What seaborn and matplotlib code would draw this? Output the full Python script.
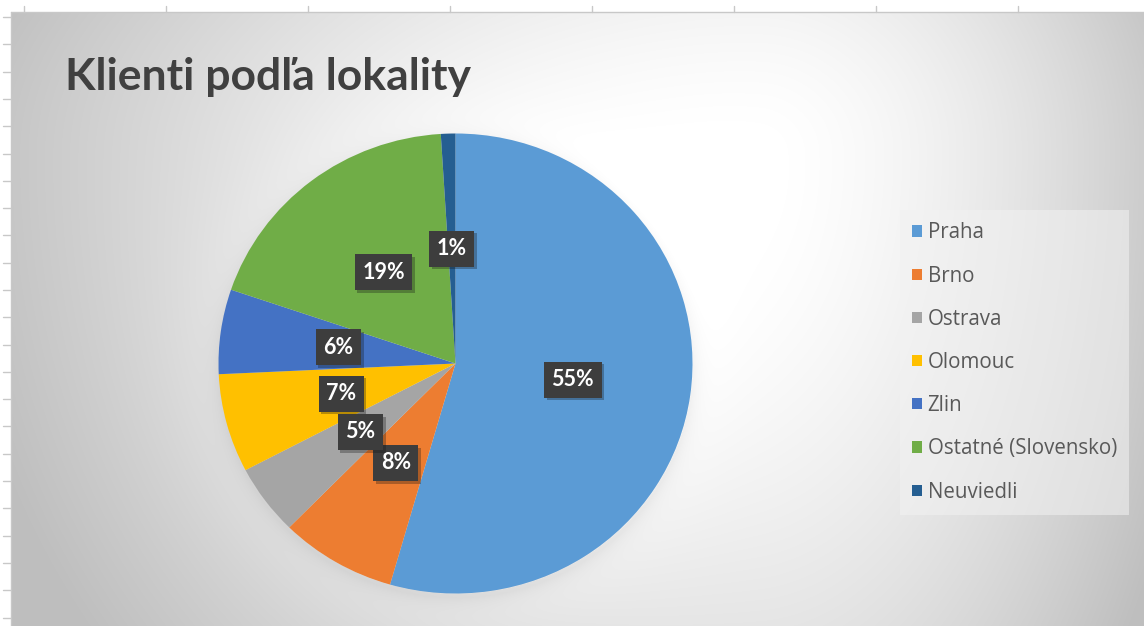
import numpy as np
import matplotlib
matplotlib.use("Agg")
import matplotlib.pyplot as plt
import matplotlib.patheffects as pe
from matplotlib.patches import Patch
import seaborn as sns

# data
lokality = ["Praha", "Brno", "Ostrava", "Olomouc", "Zlin", "Ostatné (Slovensko)", "Neuviedli"]
podiel = [55, 8, 5, 7, 6, 19, 1]
popisky = [f"{p}%" for p in podiel]
farby = ["#5B9BD5", "#ED7D31", "#A5A5A5", "#FFC000", "#4472C4", "#70AD47", "#255E91"]
nadpis = "Klienti podľa lokality"

sns.set_theme(style="white")
plt.rcParams['font.family'] = ['Lato', 'DejaVu Sans']

W, H = 1144, 626
fig = plt.figure(figsize=(W / 100, H / 100), dpi=100)

# pie placement (the screenshot is slightly stretched horizontally)
cx, cy, RX, RY = 455.5, 363.5, 237, 230

# background: excel-like radial gradient, light halo and soft shadow round the pie
bg = fig.add_axes([0, 0, 1, 1])
yy, xx = np.mgrid[0:H, 0:W]
dx = xx - 760.0
dy = yy - 150.0
sx = np.where(dx < 0, 780.0, 430.0)
sy = np.where(dy < 0, 400.0, 800.0)
d = np.sqrt((dx / sx) ** 2 + (dy / sy) ** 2)
v = 255 - 60 * np.minimum(d, 1.05) ** 1.6
rr = np.hypot((xx - cx) / RX, (yy - cy) / RY) * RY
out = np.clip(rr - RY, 0, None)
v = v + 10 * np.exp(-out / 60) * (rr > RY)
rs = np.hypot((xx - cx) / RX, (yy - cy - 4) / RY) * RY
v = v - 14 * np.exp(-np.clip(rs - RY, 0, None) / 9) * (rr > RY)
v = np.clip(v, 0, 255) / 255
img = np.dstack([v, v, v])
img[:12, :, :] = 1
img[:, :11, :] = 1
bg.imshow(img, extent=[0, W, H, 0], aspect='auto', interpolation='bilinear')
bg.plot([11, W], [12, 12], color="#c8c8c8", lw=1)
bg.plot([11, 11], [12, H], color="#c8c8c8", lw=1)
for x in np.arange(24, W, 142):
    bg.plot([x, x], [6, 12], color="#c8c8c8", lw=1)
for y in np.arange(17, H, 27.3):
    bg.plot([3, 11], [y, y], color="#c8c8c8", lw=1)
bg.set_xlim(0, W)
bg.set_ylim(H, 0)
bg.axis('off')

# pie
ax = fig.add_axes([(cx - RX) / W, (H - cy - RY) / H, 2 * RX / W, 2 * RY / H])
wedges, _ = ax.pie(podiel, colors=farby, startangle=90, counterclock=False,
                   wedgeprops=dict(linewidth=0))
ax.set_xlim(-1, 1)
ax.set_ylim(-1, 1)
ax.set_aspect('auto')

for w, txt in zip(wedges, popisky):
    ang = np.deg2rad((w.theta1 + w.theta2) / 2)
    t = ax.text(0.5 * np.cos(ang), 0.5 * np.sin(ang), txt, ha='center', va='center',
                color='white', fontsize=15.5, fontweight='bold',
                bbox=dict(boxstyle='square,pad=0.35', fc='#3d3d3d', ec='none'))
    t.get_bbox_patch().set_path_effects([pe.SimplePatchShadow(offset=(2, -2), alpha=0.3), pe.Normal()])

# legend
handles = [Patch(facecolor=c, edgecolor='none') for c in farby]
leg = fig.legend(handles, lokality, loc='upper left', bbox_to_anchor=(900 / W, 1 - 210 / H),
                 frameon=True, fancybox=False, labelspacing=1.08,
                 prop={'family': ['Open Sans', 'DejaVu Sans'], 'size': 14.8},
                 handlelength=0.45, handleheight=0.45, handletextpad=0.3,
                 borderpad=0.6, borderaxespad=0, labelcolor='#595959')
leg.get_frame().set(facecolor='#f2f2f2', alpha=0.55, edgecolor='none')

fig.text(65 / W, 1 - 77 / H, nadpis, fontsize=32, fontweight='bold', color='#404040',
         va='center', ha='left')

fig.savefig('out.png', dpi=100)
